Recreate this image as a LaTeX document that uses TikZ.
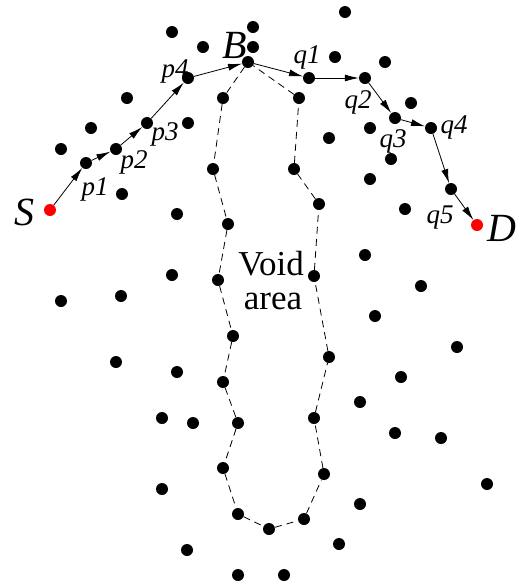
\documentclass[tikz,border=0pt]{standalone}
\usepackage{fontspec}
\setmainfont{Liberation Serif}
\usetikzlibrary{arrows.meta}
\begin{document}
\begin{tikzpicture}[x=1pt,y=-1pt,
  dot/.style={circle,fill=black,inner sep=0pt,minimum size=12pt},
  reddot/.style={circle,fill=red,inner sep=0pt,minimum size=12pt},
  pathedge/.style={line width=0.8pt,-{Latex[length=14pt,width=7pt]}},
  voidedge/.style={line width=0.8pt,dash pattern=on 7pt off 5pt},
  biglabel/.style={inner sep=0pt,font=\fontsize{40}{44}\selectfont\itshape},
  smalllabel/.style={inner sep=0pt,font=\fontsize{27}{30}\selectfont\itshape},
  voidlabel/.style={inner sep=0pt,font=\fontsize{35}{38}\selectfont}]
\useasboundingbox (0,0) rectangle (523,587);
% path nodes
\node[reddot] (S) at (50,210) {};
\node[dot] (p1) at (86,163) {};
\node[dot] (p2) at (116,149) {};
\node[dot] (p3) at (147,123) {};
\node[dot] (p4) at (188,78) {};
\node[dot] (B) at (248,62) {};
\node[dot] (q1) at (309,78) {};
\node[dot] (q2) at (365,78) {};
\node[dot] (q3) at (395,118) {};
\node[dot] (q4) at (431,128) {};
\node[dot] (q5) at (451,189) {};
\node[reddot] (D) at (477,225) {};
% void boundary nodes
\foreach \x/\y [count=\i] in {223/98,213/169,228/224,218/280,233/336,223/382,238/423,223/468,238/514,269/529,304/519,324/474,314/418,329/357,314/276,319/204,294/169,299/98}
  \node[dot] (v\i) at (\x,\y) {};
% other nodes
\foreach \x/\y [count=\i] in {172/32,203/47,253/27,253/47,127/98,91/128,188/123,61/149,122/194,177/214,172/275,61/301,121/296,116/362,177/372,162/418,193/423,162/489,187/550,238/575,284/575,339/544,360/504,360/402,395/433,441/438,487/484,401/377,457/347,375/316,421/286,365/255,405/209,370/179,391/159,329/138,370/128,411/103,335/57,385/62,345/12}
  \node[dot] (o\i) at (\x,\y) {};
% void boundary
\draw[voidedge] (B) -- (v1) -- (v2) -- (v3) -- (v4) -- (v5) -- (v6) -- (v7) -- (v8) -- (v9) -- (v10) -- (v11) -- (v12) -- (v13) -- (v14) -- (v15) -- (v16) -- (v17) -- (v18) -- (B);
% route
\draw[pathedge] (S) -- (p1);
\draw[pathedge] (p1) -- (p2);
\draw[pathedge] (p2) -- (p3);
\draw[pathedge] (p3) -- (p4);
\draw[pathedge] (p4) -- (B);
\draw[pathedge] (B) -- (q1);
\draw[pathedge] (q1) -- (q2);
\draw[pathedge] (q2) -- (q3);
\draw[pathedge] (q3) -- (q4);
\draw[pathedge] (q4) -- (q5);
\draw[pathedge] (q5) -- (D);
% labels
\node[biglabel,anchor=base] (lS) at (25,225) {S};
\node[biglabel,anchor=base] (lB) at (235,58) {B};
\node[biglabel,anchor=base] (lD) at (502,241) {D};
\node[smalllabel,anchor=base] (lp1) at (95,195) {p1};
\node[smalllabel,anchor=base] (lp2) at (134,168) {p2};
\node[smalllabel,anchor=base] (lp3) at (165,140) {p3};
\node[smalllabel,anchor=base] (lp4) at (175,77) {p4};
\node[smalllabel,anchor=base] (lq1) at (307,63) {q1};
\node[smalllabel,anchor=base] (lq2) at (358,108) {q2};
\node[smalllabel,anchor=base] (lq3) at (393,147) {q3};
\node[smalllabel,anchor=base] (lq4) at (454,133) {q4};
\node[smalllabel,anchor=base] (lq5) at (440,223) {q5};
\node[voidlabel,anchor=base] (lvoid) at (271,275) {Void};
\node[voidlabel,anchor=base] (larea) at (273,309) {area};
\end{tikzpicture}
\end{document}
